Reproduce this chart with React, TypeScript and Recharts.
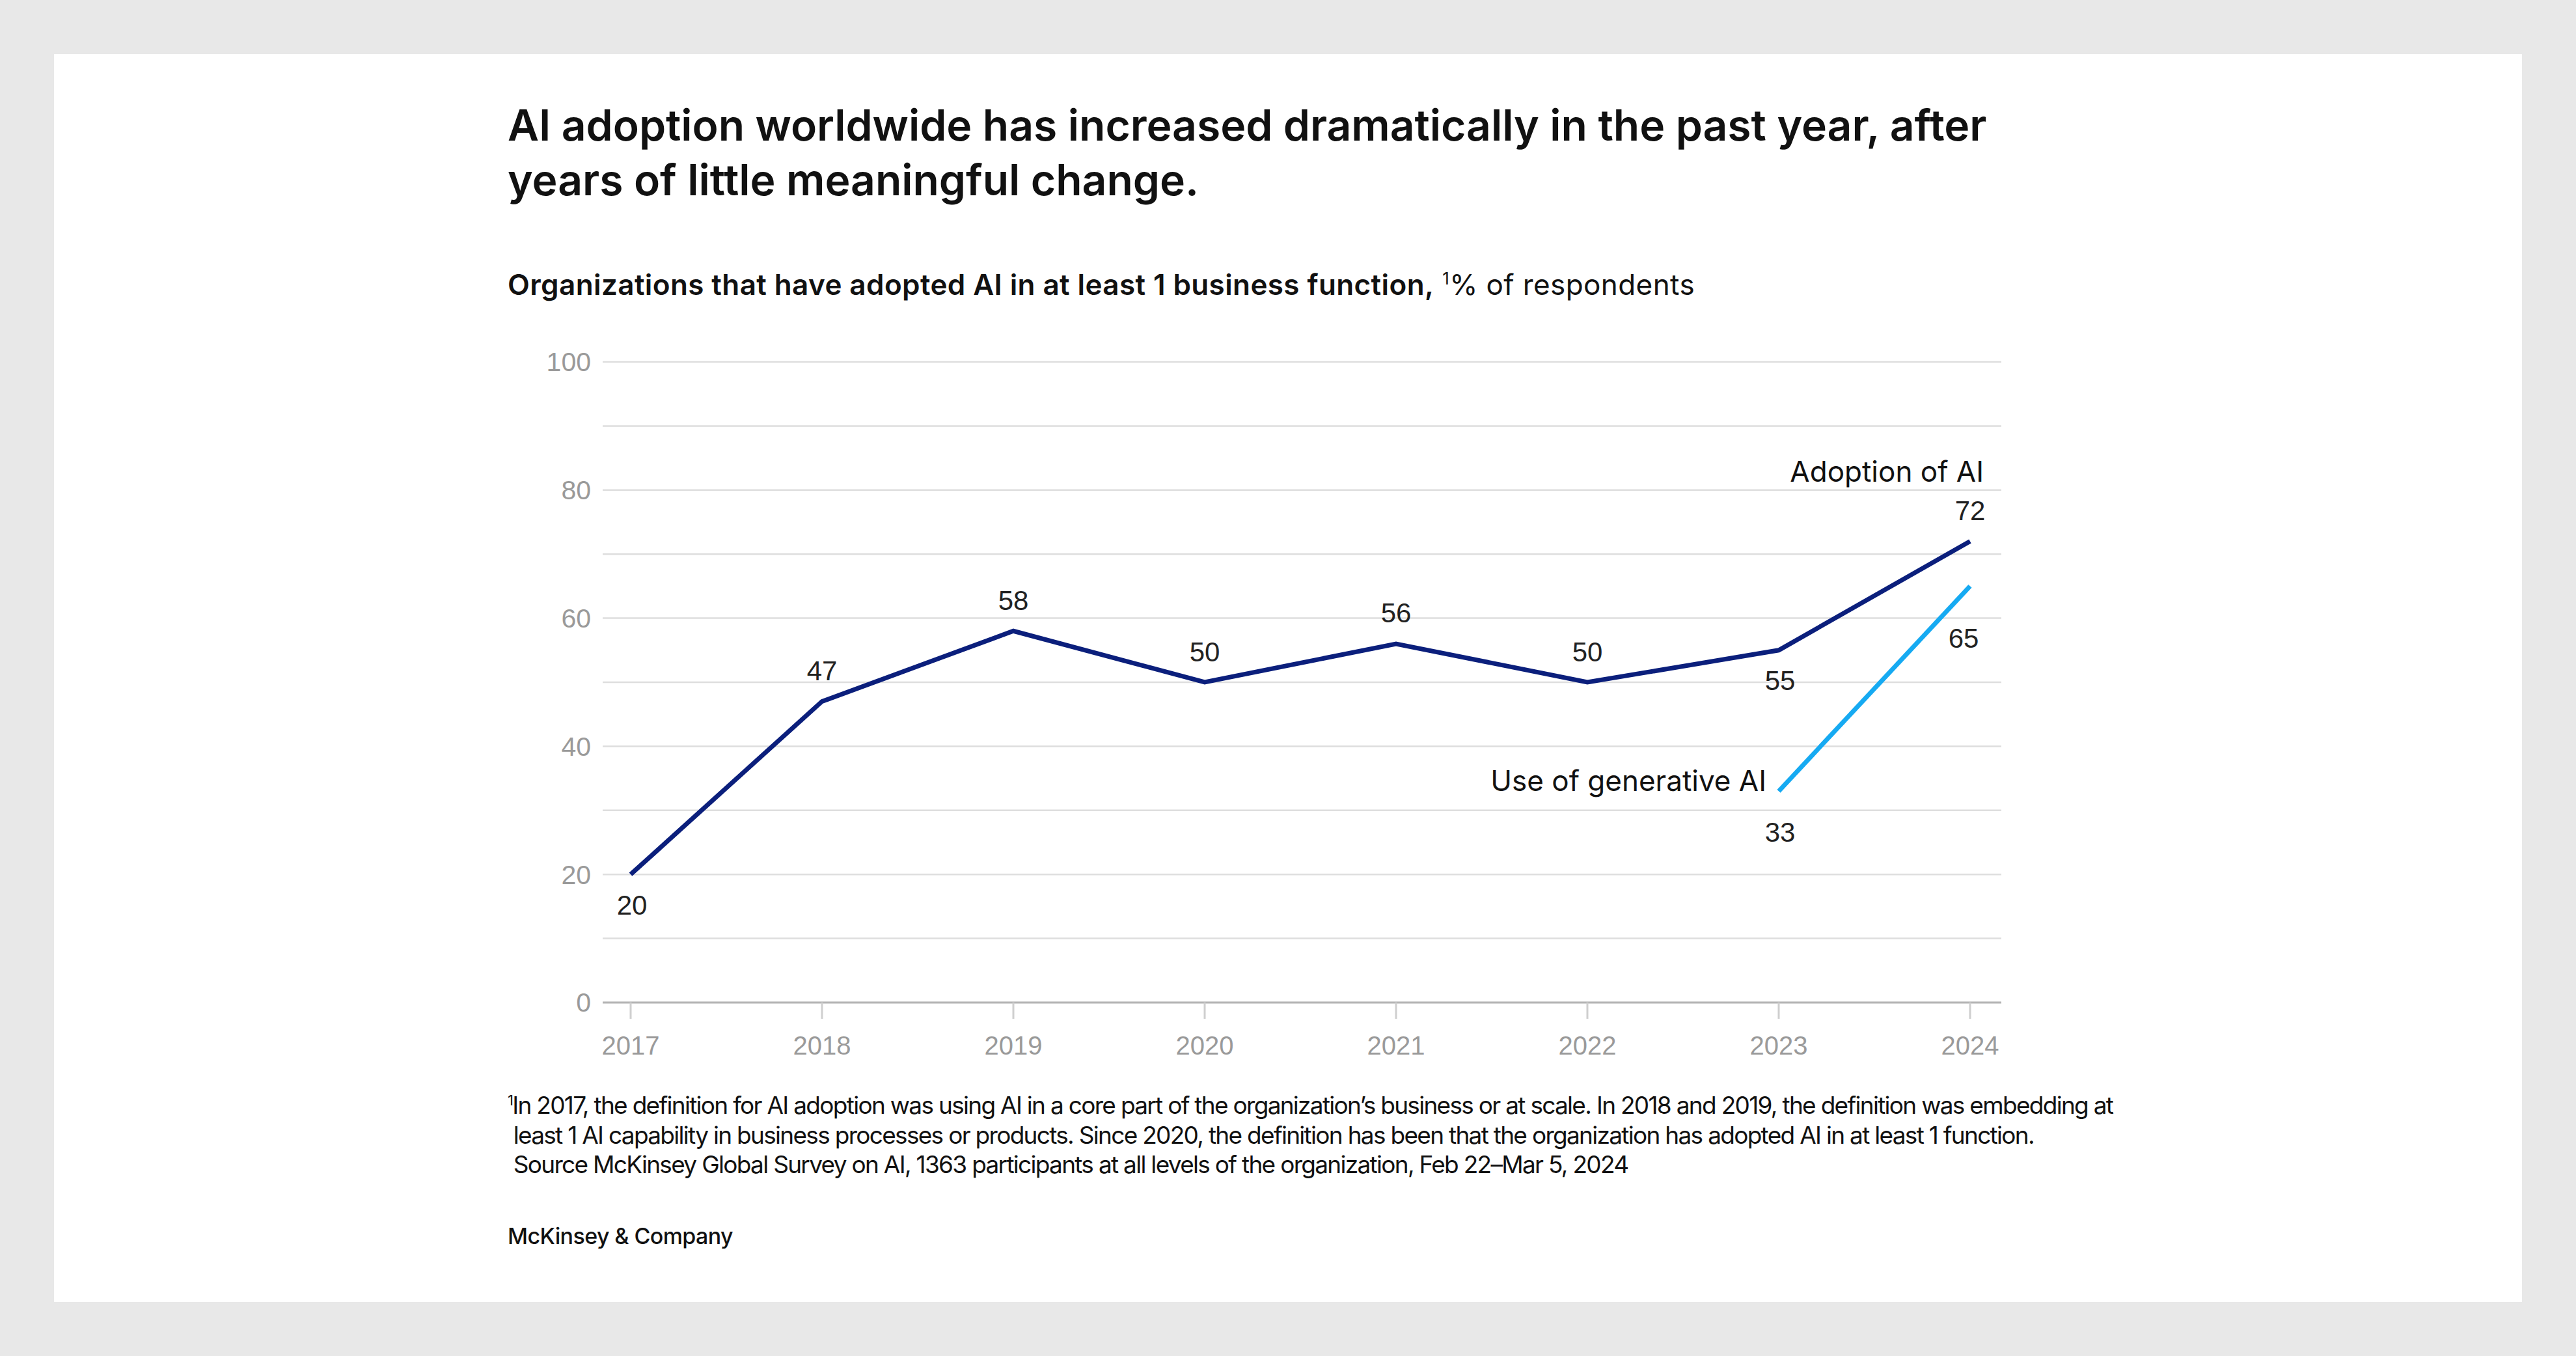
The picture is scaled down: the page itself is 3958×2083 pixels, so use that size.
import React from "react"
import { LineChart, Line, XAxis, YAxis, CartesianGrid } from "recharts"

// Chart data
const years = ["2017", "2018", "2019", "2020", "2021", "2022", "2023", "2024"]
const adoptionOfAI = [20, 47, 58, 50, 56, 50, 55, 72]
const useOfGenAI: (number | null)[] = [null, null, null, null, null, null, 33, 65]
const yTicks = [0, 10, 20, 30, 40, 50, 60, 70, 80, 90, 100]

// where each value label sits relative to its point
const adoptionPlacement = ["below", "above", "above", "above", "above", "above", "below", "above"]
const genAIPlacement = ["", "", "", "", "", "", "below", "belowFar"]

const NAVY = "#0b1f7c"
const LIGHT_BLUE = "#16aaf2"
const GRID = "#dedede"
const AXIS_TEXT = "#9a9a9a"
const TICK_FONT = "'Liberation Sans', Arial, sans-serif"
const UI_FONT = "Inter, 'Noto Sans', sans-serif"

const data = years.map((year, i) => ({
  year,
  adoption: adoptionOfAI[i],
  genai: useOfGenAI[i],
}))

const labelShift: Record<string, { dx: number; dy: number }> = {
  above: { dx: 0, dy: -47 },
  below: { dx: 2, dy: 50 },
  belowFar: { dx: -10, dy: 80 },
}

function makeLabel(placement: string[], belowGap: number) {
  return (props: any) => {
    const { x, y, value, index } = props
    if (value == null) return null
    const shift = labelShift[placement[index]] || labelShift.above
    const dy = placement[index] === "below" ? belowGap : shift.dy
    return (
      <text
        key={`lbl-${index}`}
        x={x + shift.dx}
        y={y + dy}
        textAnchor="middle"
        dominantBaseline="central"
        fontFamily={TICK_FONT}
        fontSize={42}
        fill="#222"
      >
        {value}
      </text>
    )
  }
}

function LeftTick(props: any) {
  const { x, y, payload } = props
  if (payload.value % 20 !== 0) return null
  return (
    <text x={x} y={y} dy="0.35em" textAnchor="end" fontFamily={TICK_FONT} fontSize={41} fill={AXIS_TEXT}>
      {payload.value}
    </text>
  )
}

function RightTick(props: any) {
  const { x, y, payload } = props
  if (payload.value % 20 !== 0) return null
  return (
    <text x={x} y={y} dy="0.35em" textAnchor="end" fontFamily={TICK_FONT} fontSize={41} fill={AXIS_TEXT}>
      {payload.value}
    </text>
  )
}

function Chart() {
  return (
    <LineChart width={2500} height={1150} data={data} margin={{ top: 56, right: 0, left: 0, bottom: 0 }}>
      <CartesianGrid vertical={false} stroke={GRID} strokeWidth={2.5} yAxisId="left" />
      <XAxis
        dataKey="year"
        height={110}
        padding={{ left: 43, right: 48 }}
        axisLine={{ stroke: "#b5b5b5", strokeWidth: 3 }}
        tickLine={{ stroke: "#cfcfcf", strokeWidth: 3 }}
        tickSize={25}
        tickMargin={27}
        tick={{ fontFamily: TICK_FONT, fontSize: 40, fill: AXIS_TEXT }}
        interval={0}
      />
      <YAxis
        yAxisId="left"
        orientation="left"
        width={146}
        domain={[0, 100]}
        ticks={yTicks}
        interval={0}
        axisLine={false}
        tickLine={false}
        tickSize={0}
        tickMargin={18}
        tick={<LeftTick />}
      />
      <YAxis
        yAxisId="right"
        orientation="right"
        width={205}
        domain={[0, 100]}
        ticks={yTicks}
        interval={0}
        axisLine={false}
        tickLine={false}
        tickSize={0}
        tickMargin={96}
        tick={<RightTick />}
      />
      <Line
        yAxisId="left"
        type="linear"
        dataKey="adoption"
        stroke={NAVY}
        strokeWidth={7}
        dot={false}
        isAnimationActive={false}
        label={makeLabel(adoptionPlacement, 47)}
      />
      <Line
        yAxisId="left"
        type="linear"
        dataKey="genai"
        stroke={LIGHT_BLUE}
        strokeWidth={7}
        dot={false}
        isAnimationActive={false}
        label={makeLabel(genAIPlacement, 63)}
      />
    </LineChart>
  )
}

export default function App() {
  return (
    <div style={{ position: "absolute", left: 0, top: 0, width: 3958, height: 2083, background: "#e8e8e8", overflow: "hidden" }}>
      <div style={{ position: "absolute", left: 83, top: 83, width: 3792, height: 1917, background: "#fff" }} />

      <div
        style={{
          position: "absolute",
          left: 780,
          top: 150,
          fontFamily: UI_FONT,
          fontWeight: 600,
          fontSize: 66,
          lineHeight: "84px",
          letterSpacing: -0.05,
          color: "#111",
          whiteSpace: "nowrap",
        }}
      >
        AI adoption worldwide has increased dramatically in the past year, after
        <br />
        years of little meaningful change.
      </div>

      <div
        style={{
          position: "absolute",
          left: 780,
          top: 410,
          fontFamily: UI_FONT,
          fontSize: 44,
          letterSpacing: 0.4,
          color: "#111",
          whiteSpace: "nowrap",
        }}
      >
        <span style={{ fontWeight: 600 }}>Organizations that have adopted AI in at least 1 business function,</span>{" "}
        <sup style={{ fontSize: 26 }}>1</sup>% of respondents
      </div>

      <div style={{ position: "absolute", left: 780, top: 500 }}>
        <Chart />
      </div>

      <div
        style={{ position: "absolute", right: 3958 - 3048, top: 697, fontFamily: UI_FONT, fontSize: 44, color: "#111", whiteSpace: "nowrap" }}
      >
        Adoption of AI
      </div>
      <div
        style={{ position: "absolute", right: 3958 - 2714, top: 1172, fontFamily: UI_FONT, fontSize: 44, color: "#111", whiteSpace: "nowrap" }}
      >
        Use of generative AI
      </div>

      <div
        style={{
          position: "absolute",
          left: 780,
          top: 1668,
          fontFamily: UI_FONT,
          fontSize: 37,
          lineHeight: "45.5px",
          letterSpacing: -1.7,
          color: "#111",
          whiteSpace: "nowrap",
        }}
      >
        <sup style={{ fontSize: 22 }}>1</sup>In 2017, the definition for AI adoption was using AI in a core part of the organization’s business or at scale. In 2018 and 2019, the definition was embedding at
        <br />
        &nbsp;least 1 AI capability in business processes or products. Since 2020, the definition has been that the organization has adopted AI in at least 1 function.
        <br />
        &nbsp;Source McKinsey Global Survey on AI, 1363 participants at all levels of the organization, Feb 22–Mar 5, 2024
      </div>

      <div style={{ position: "absolute", left: 780, top: 1878, fontFamily: UI_FONT, fontSize: 34, fontWeight: 500, letterSpacing: -0.6, color: "#111", whiteSpace: "nowrap" }}>
        McKinsey &amp; Company
      </div>
    </div>
  )
}
